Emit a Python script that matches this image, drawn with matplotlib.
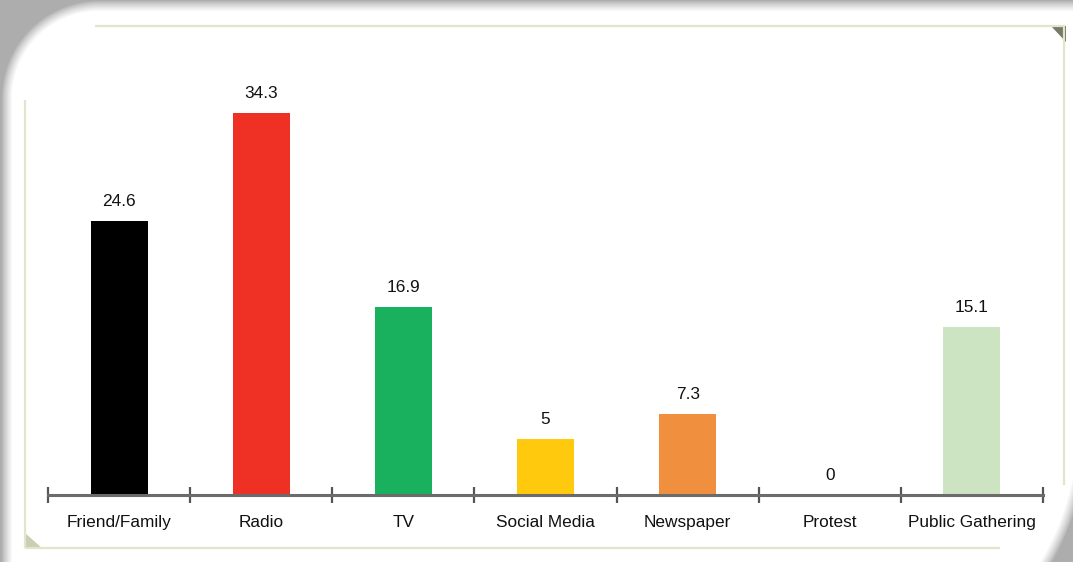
import numpy as np
import matplotlib
matplotlib.use("Agg")
import matplotlib.pyplot as plt
from matplotlib.path import Path
from matplotlib.patches import PathPatch, Polygon
from matplotlib.colors import to_rgb
from matplotlib.transforms import offset_copy

# ---- data ----
categories = ["Friend/Family", "Radio", "TV", "Social Media",
              "Newspaper", "Protest", "Public Gathering"]
values = [24.6, 34.3, 16.9, 5, 7.3, 0, 15.1]
bar_colors = ["#000000", "#ee3124", "#19b05e", "#ffc90d",
              "#f0903f", "#ffffff", "#cde4c3"]

W, H = 1073, 562
fig = plt.figure(figsize=(W / 100, H / 100), dpi=100)
fig.patch.set_facecolor("white")

# ---- card frame with soft shadow (pixel coordinates, y pointing down) ----
bg = fig.add_axes([0, 0, 1, 1], zorder=0)
bg.set_xlim(0, W)
bg.set_ylim(H, 0)
bg.set_autoscale_on(False)
bg.axis("off")
bg.add_patch(plt.Rectangle((0, 0), W, H, facecolor="#adadad", lw=0))


def card_path(L, T, R, B, r1, r2):
    t1 = np.linspace(np.pi, 1.5 * np.pi, 40)
    t2 = np.linspace(0, 0.5 * np.pi, 80)
    pts = [(L, B + 50), (L, T + r1)]
    pts += list(zip(L + r1 + r1 * np.cos(t1), T + r1 + r1 * np.sin(t1)))
    pts += [(R, T), (R, B - r2)]
    pts += list(zip(R - r2 + r2 * np.cos(t2), B - r2 + r2 * np.sin(t2)))
    pts += [(L, B + 50)]
    return Path(np.array(pts), closed=True)


gray = np.array(to_rgb("#adadad"))
white = np.ones(3)
offsets = np.linspace(-5, 5, 14)
for k, d in enumerate(offsets):
    f = (k + 1) / len(offsets)
    col = tuple(gray + (white - gray) * f ** 0.8)
    p = card_path(7 + d, 6 + d, 1083 - d, 698 - d, 92 - d, 273 - d)
    bg.add_patch(PathPatch(p, facecolor=col, edgecolor="none"))
bg.add_patch(PathPatch(card_path(12, 11, 1078, 693, 87, 268),
                       facecolor="white", edgecolor="none"))

# inner thin border and folded corners
line_kw = dict(color="#dfe6c9", lw=1.6, solid_capstyle="butt")
bg.plot([95, 1065], [26, 26], **line_kw)
bg.plot([25, 25], [100, 548], **line_kw)
bg.plot([1064, 1064], [26, 485], **line_kw)
bg.plot([25, 1000], [548, 548], **line_kw)
bg.add_patch(Polygon([(1051, 26), (1066, 26), (1066, 42)], closed=True,
                     facecolor="#767a68", edgecolor="none"))
bg.add_patch(Polygon([(25, 533), (25, 549), (43, 549)], closed=True,
                     facecolor="#c9cfb3", edgecolor="none"))

# ---- bar chart ----
ax = fig.add_axes([48 / W, (H - 495) / H, 995 / W, 445.6 / H], zorder=2)
ax.patch.set_alpha(0)
x = np.arange(len(categories))
ax.bar(x, values, width=0.40, color=bar_colors, zorder=1)
ax.set_xlim(-0.5, len(categories) - 0.5)
ax.set_ylim(0, 40)
for s in ("top", "left", "right"):
    ax.spines[s].set_visible(False)
ax.spines["bottom"].set_color("#6b6b6b")
ax.spines["bottom"].set_linewidth(2.2)
ax.set_yticks([])
ax.set_xticks(np.arange(-0.5, len(categories), 1.0))
ax.set_xticklabels([])
ax.tick_params(axis="x", direction="inout", length=11, width=1.6,
               color="#555555")

font = dict(family=["Liberation Sans", "DejaVu Sans"], size=12.4,
            color="#111111")
for xi, v in zip(x, values):
    ax.annotate(f"{v:g}", xy=(xi, v), xytext=(0, 10.8),
                textcoords="offset points", ha="center", va="baseline",
                **font)
lab_tr = offset_copy(ax.get_xaxis_transform(), fig=fig, x=0, y=-23,
                     units="points")
for xi, c in zip(x, categories):
    ax.text(xi, 0, c, transform=lab_tr, ha="center", va="baseline", **font)

fig.savefig("out.png", dpi=100, facecolor=fig.get_facecolor())
